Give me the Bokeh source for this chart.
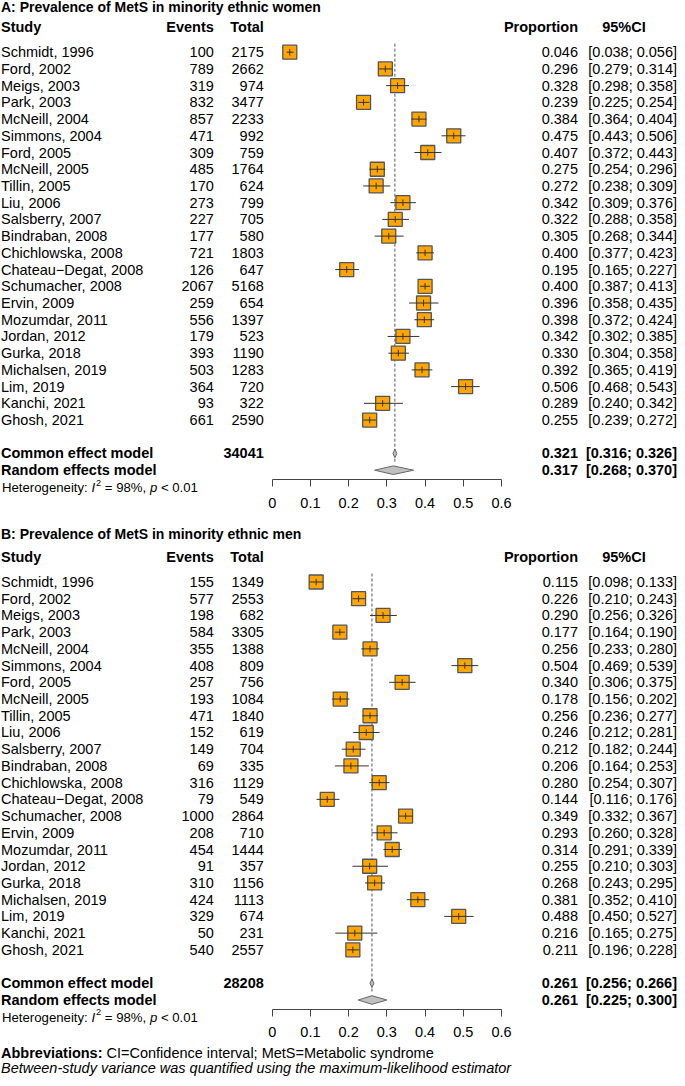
from bokeh.plotting import figure
from bokeh.models import LinearAxis, FixedTicker, Range1d
from bokeh.core.properties import value
from bokeh.embed import file_html
from bokeh.resources import INLINE

FONT = "Liberation Sans"
NB = "\u00a0"

# ---------------- data ----------------
studies = ["Schmidt, 1996", "Ford, 2002", "Meigs, 2003", "Park, 2003", "McNeill, 2004",
           "Simmons, 2004", "Ford, 2005", "McNeill, 2005", "Tillin, 2005", "Liu, 2006",
           "Salsberry, 2007", "Bindraban, 2008", "Chichlowska, 2008", "Chateau\u2212Degat, 2008",
           "Schumacher, 2008", "Ervin, 2009", "Mozumdar, 2011", "Jordan, 2012", "Gurka, 2018",
           "Michalsen, 2019", "Lim, 2019", "Kanchi, 2021", "Ghosh, 2021"]

women_events = [100, 789, 319, 832, 857, 471, 309, 485, 170, 273, 227, 177, 721, 126, 2067,
                259, 556, 179, 393, 503, 364, 93, 661]
women_total = [2175, 2662, 974, 3477, 2233, 992, 759, 1764, 624, 799, 705, 580, 1803, 647,
               5168, 654, 1397, 523, 1190, 1283, 720, 322, 2590]
women_prop = [0.046, 0.296, 0.328, 0.239, 0.384, 0.475, 0.407, 0.275, 0.272, 0.342, 0.322,
              0.305, 0.400, 0.195, 0.400, 0.396, 0.398, 0.342, 0.330, 0.392, 0.506, 0.289, 0.255]
women_lower = [0.038, 0.279, 0.298, 0.225, 0.364, 0.443, 0.372, 0.254, 0.238, 0.309, 0.288,
               0.268, 0.377, 0.165, 0.387, 0.358, 0.372, 0.302, 0.304, 0.365, 0.468, 0.240, 0.239]
women_upper = [0.056, 0.314, 0.358, 0.254, 0.404, 0.506, 0.443, 0.296, 0.309, 0.376, 0.358,
               0.344, 0.423, 0.227, 0.413, 0.435, 0.424, 0.385, 0.358, 0.419, 0.543, 0.342, 0.272]
women_pooled_total = 34041
women_common = [0.321, 0.316, 0.326]
women_random = [0.317, 0.268, 0.370]

men_events = [155, 577, 198, 584, 355, 408, 257, 193, 471, 152, 149, 69, 316, 79, 1000,
              208, 454, 91, 310, 424, 329, 50, 540]
men_total = [1349, 2553, 682, 3305, 1388, 809, 756, 1084, 1840, 619, 704, 335, 1129, 549,
             2864, 710, 1444, 357, 1156, 1113, 674, 231, 2557]
men_prop = [0.115, 0.226, 0.290, 0.177, 0.256, 0.504, 0.340, 0.178, 0.256, 0.246, 0.212,
            0.206, 0.280, 0.144, 0.349, 0.293, 0.314, 0.255, 0.268, 0.381, 0.488, 0.216, 0.211]
men_lower = [0.098, 0.210, 0.256, 0.164, 0.233, 0.469, 0.306, 0.156, 0.236, 0.212, 0.182,
             0.164, 0.254, 0.116, 0.332, 0.260, 0.291, 0.210, 0.243, 0.352, 0.450, 0.165, 0.196]
men_upper = [0.133, 0.243, 0.326, 0.190, 0.280, 0.539, 0.375, 0.202, 0.277, 0.281, 0.244,
             0.253, 0.307, 0.176, 0.367, 0.328, 0.339, 0.303, 0.295, 0.410, 0.527, 0.275, 0.228]
men_pooled_total = 28208
men_common = [0.261, 0.256, 0.266]
men_random = [0.261, 0.225, 0.300]

het_i2 = ["98%", "98%"]
het_p = ["< 0.01", "< 0.01"]

titles = ["A: Prevalence of MetS in minority ethnic women",
          "B: Prevalence of MetS in minority ethnic men"]
headers = ["Study", "Events", "Total", "Proportion", "95%CI"]
model_labels = ["Common effect model", "Random effects model"]
ticks = [0, 0.1, 0.2, 0.3, 0.4, 0.5, 0.6]
tick_labels = ["0", "0.1", "0.2", "0.3", "0.4", "0.5", "0.6"]
abbrev_head = "Abbreviations:"
abbrev_text = "CI=Confidence interval; MetS=Metabolic syndrome"
footnote = "Between-study variance was quantified using the maximum-likelihood estimator"

# ---------------- layout (pixel geometry) ----------------
W, H = 677, 1078
X0 = 271.7      # pixel of proportion 0
PXU = 382.2     # pixels per unit proportion
DY = 16.72      # row pitch
COL_STUDY = 0.5
COL_EVENTS = 213.3
COL_TOTAL = 263.3
COL_PROP = 577.5
COL_CI = 676.5
COL_CI_HEAD = 623.5


def rx(px):
    return (px - X0) / PXU


p = figure(width=W, height=H, output_backend="svg", toolbar_location=None,
           x_range=Range1d(rx(0), rx(W)), y_range=Range1d(H, 0),
           x_axis_location=None, y_axis_location=None, min_border=0,
           background_fill_color="white", border_fill_color="white")
p.outline_line_color = None
p.grid.visible = False

BODY = "14.5px"

# Arial-metric widths for inline mixed-style pieces
AW = {'H': 722, 'e': 556, 't': 278, 'r': 333, 'o': 556, 'g': 556, 'n': 556, 'i': 222,
      'y': 500, ':': 278, ' ': 278, NB: 278, '=': 584, '9': 556, '8': 556, '%': 889, ',': 278,
      '<': 584, '0': 556, '.': 278, '1': 556, 'I': 278, 'p': 556, '2': 556}
AWB = {'A': 722, 'b': 611, 'r': 389, 'e': 556, 'v': 556, 'i': 278, 'a': 556, 't': 333,
       'o': 611, 'n': 611, 's': 556, ':': 333}


def tw(s, size, table=AW):
    return sum(table.get(c, 556) for c in s) / 1000.0 * size


def txt(xs, ys, texts, align="left", style="normal", size=BODY, x_offset=0, y_offset=0):
    p.text(x=[rx(x) for x in xs], y=ys, text=texts, text_align=align,
           text_baseline="middle", text_font=value(FONT), text_font_size=size,
           text_font_style=style, text_color="black", x_offset=x_offset, y_offset=y_offset)


def panel(title, title_y, header_y, row0, events, total, prop, lower, upper,
          pooled_total, common, random, i2, pval):
    n = len(studies)
    ys = [row0 + i * DY for i in range(n)]
    common_y = row0 + (n + 1) * DY
    random_y = row0 + (n + 2) * DY
    het_y = random_y + 17.3
    axis_y = random_y + 9.3

    # reference line at common effect
    p.segment(x0=[common[0]], x1=[common[0]], y0=[row0 - 8.5], y1=[common_y + 8.5],
              line_color="#555555", line_width=1, line_dash="3 2")

    # study squares
    p.scatter(x=prop, y=ys, marker="square", size=14, fill_color="#FFA500",
              line_color="#555555", line_width=1.3)
    # CI lines
    p.segment(x0=lower, x1=upper, y0=ys, y1=ys, line_color="#333333", line_width=1)
    p.segment(x0=prop, x1=prop, y0=[y - 3.3 for y in ys], y1=[y + 3.3 for y in ys],
              line_color="#333333", line_width=1)

    # diamonds
    dh = 4.3
    xs_d, ys_d = [], []
    for est, yy in ((common, common_y), (random, random_y)):
        xs_d.append([est[1], est[0], est[2], est[0]])
        ys_d.append([yy, yy - dh, yy, yy + dh])
    p.patches(xs=xs_d, ys=ys_d, fill_color="#c0c0c0", line_color="#666666", line_width=1)

    # title + headers
    txt([COL_STUDY], [title_y], [title], style="bold", size="14px")
    txt([COL_STUDY], [header_y], [headers[0]], style="bold")
    txt([COL_EVENTS], [header_y], [headers[1]], align="right", style="bold")
    txt([COL_TOTAL], [header_y], [headers[2]], align="right", style="bold")
    txt([COL_PROP], [header_y], [headers[3]], align="right", style="bold")
    txt([COL_CI_HEAD], [header_y], [headers[4]], align="center", style="bold")

    # study columns
    txt([COL_STUDY] * n, ys, studies)
    txt([COL_EVENTS] * n, ys, [str(v) for v in events], align="right")
    txt([COL_TOTAL] * n, ys, [str(v) for v in total], align="right")
    txt([COL_PROP] * n, ys, ["%.3f" % v for v in prop], align="right")
    txt([COL_CI] * n, ys, ["[%.3f; %.3f]" % (a, b) for a, b in zip(lower, upper)], align="right")

    # pooled rows
    txt([COL_STUDY, COL_STUDY], [common_y, random_y], model_labels, style="bold")
    txt([COL_TOTAL], [common_y], [str(pooled_total)], align="right", style="bold")
    txt([COL_PROP, COL_PROP], [common_y, random_y], ["%.3f" % common[0], "%.3f" % random[0]],
        align="right", style="bold")
    txt([COL_CI, COL_CI], [common_y, random_y],
        ["[%.3f; %.3f]" % (common[1], common[2]), "[%.3f; %.3f]" % (random[1], random[2])],
        align="right", style="bold")

    # heterogeneity with italic I, superscript 2 and italic p
    hs = 13.2
    pieces = [("Heterogeneity:" + NB, "normal", hs, 0),
              ("I", "italic", hs, 0),
              ("2", "normal", hs * 0.7, -5),
              (NB + "=" + NB + i2 + "," + NB, "normal", hs, 0),
              ("p", "italic", hs, 0),
              (NB + pval, "normal", hs, 0)]
    off = 0.0
    for s, st, sz, yo in pieces:
        txt([1.5], [het_y], [s], style=st, size="%.1fpx" % sz, x_offset=off, y_offset=yo)
        off += tw(s, sz) + (0.8 if s == "I" else 0)

    # axis
    ax = LinearAxis(fixed_location=axis_y, ticker=FixedTicker(ticks=ticks), bounds=(0, 0.6),
                    major_label_overrides=dict(zip(ticks, tick_labels)),
                    major_tick_in=0, major_tick_out=7, minor_tick_in=0, minor_tick_out=0,
                    axis_line_color="#444444", major_tick_line_color="#444444",
                    major_label_text_font=FONT, major_label_text_font_size=BODY,
                    major_label_text_color="black", major_label_standoff=11)
    p.add_layout(ax, "below")


panel(titles[0], 6.8, 26.0, 51.7, women_events, women_total, women_prop, women_lower,
      women_upper, women_pooled_total, women_common, women_random, het_i2[0], het_p[0])
panel(titles[1], 533.5, 556.7, 581.5, men_events, men_total, men_prop, men_lower,
      men_upper, men_pooled_total, men_common, men_random, het_i2[1], het_p[1])

# footnotes
txt([COL_STUDY], [1052.5], [abbrev_head], style="bold")
txt([COL_STUDY], [1052.5], [abbrev_text], x_offset=tw(abbrev_head, 14.5, AWB) + 4.0)
txt([COL_STUDY], [1067.0], [footnote], style="italic")

open("out.html", "w").write(file_html(p, INLINE))
